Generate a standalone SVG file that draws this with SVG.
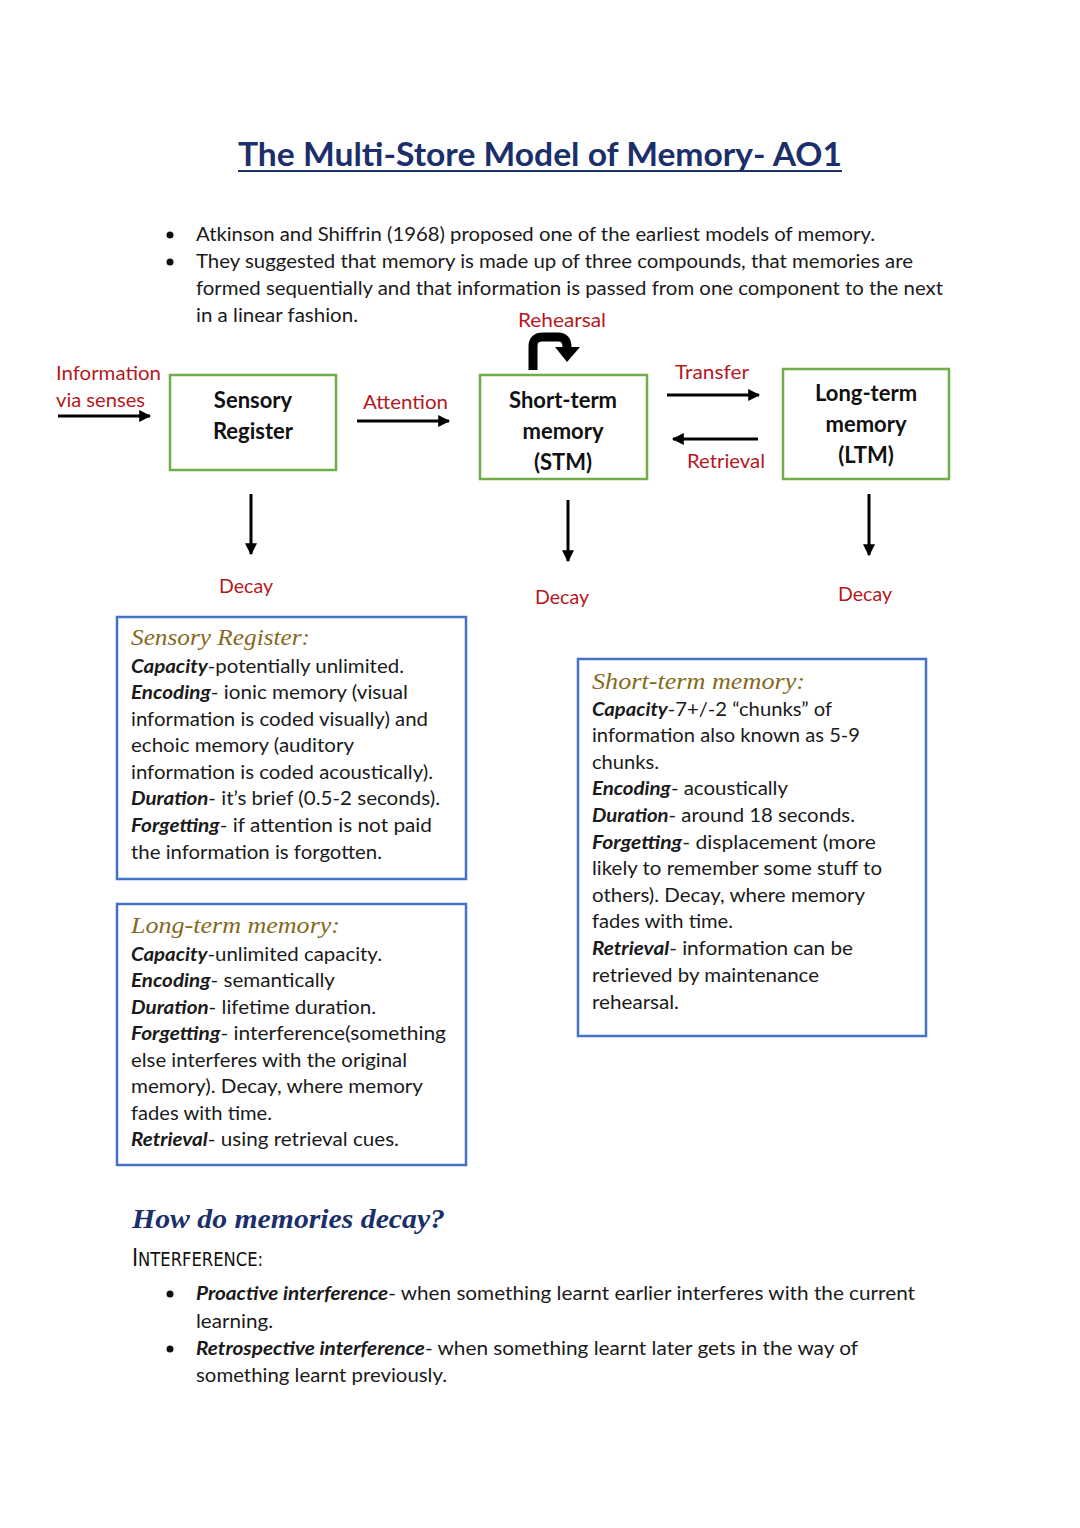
<svg xmlns="http://www.w3.org/2000/svg" width="1080" height="1528" viewBox="0 0 1080 1528">
<defs>
<style>
.t{font-family:Lato,"Open Sans","Liberation Sans",sans-serif;font-size:19.5px;fill:#1a1a1a}
.lbl{font-family:Lato,"Open Sans","Liberation Sans",sans-serif;font-size:19px;fill:#b5181e}
.node{font-family:Lato,"Open Sans","Liberation Sans",sans-serif;font-size:22px;font-weight:bold;fill:#111;text-anchor:middle}
.b{font-weight:bold;font-style:italic}
.hd{font-family:"Liberation Serif","DejaVu Serif",serif;font-style:italic;font-size:23px;fill:#86691c}
.gbox{fill:none;stroke:#70ad47;stroke-width:2.5}
.bbox{fill:none;stroke:#4472c4;stroke-width:2.5}
.con{stroke:#000;stroke-width:3;fill:none}
</style>
<marker id="ah" viewBox="0 0 10 10" refX="9" refY="5" markerWidth="4" markerHeight="4" orient="auto" markerUnits="strokeWidth">
<path d="M0,0 L10,5 L0,10 z" fill="#000"/>
</marker>
</defs>
<rect width="1080" height="1528" fill="#fff"/>

<g id="title">
<text x="238" y="166" textLength="604" lengthAdjust="spacingAndGlyphs" style="font-family:Lato,'Open Sans','Liberation Sans',sans-serif;font-size:32px;font-weight:bold;fill:#1b2f6b">The Multi-Store Model of Memory- AO1</text>
<line x1="238" y1="171" x2="842" y2="171" stroke="#1b2f6b" stroke-width="2.2"/>
</g>

<g id="intro">
<circle cx="170" cy="235" r="3.5" fill="#111"/>
<circle cx="170" cy="262" r="3.5" fill="#111"/>
<text class="t" x="196" y="241" textLength="679" lengthAdjust="spacingAndGlyphs">Atkinson and Shiffrin (1968) proposed one of the earliest models of memory.</text>
<text class="t" x="196" y="268" textLength="717" lengthAdjust="spacingAndGlyphs">They suggested that memory is made up of three compounds, that memories are</text>
<text class="t" x="196" y="295" textLength="747" lengthAdjust="spacingAndGlyphs">formed sequentially and that information is passed from one component to the next</text>
<text class="t" x="196" y="322" textLength="162" lengthAdjust="spacingAndGlyphs">in a linear fashion.</text>
</g>

<g id="sensory-register">
<rect class="gbox" x="170" y="375" width="166" height="95"/>
<text class="node" x="253" y="408">Sensory</text>
<text class="node" x="253" y="439">Register</text>
</g>

<g id="stm">
<rect class="gbox" x="480" y="375" width="167" height="104"/>
<text class="node" x="563" y="408">Short-term</text>
<text class="node" x="563" y="439">memory</text>
<text class="node" x="563" y="470">(STM)</text>
</g>

<g id="ltm">
<rect class="gbox" x="783" y="369" width="166" height="110"/>
<text class="node" x="866" y="401">Long-term</text>
<text class="node" x="866" y="432">memory</text>
<text class="node" x="866" y="463">(LTM)</text>
</g>

<g id="connectors">
<line class="con" x1="58" y1="416" x2="150" y2="416" marker-end="url(#ah)"/>
<line class="con" x1="357" y1="421" x2="449" y2="421" marker-end="url(#ah)"/>
<line class="con" x1="667" y1="395" x2="759" y2="395" marker-end="url(#ah)"/>
<line class="con" x1="758" y1="439" x2="673" y2="439" marker-end="url(#ah)"/>
<line class="con" x1="251" y1="494" x2="251" y2="554" stroke-width="2.6" marker-end="url(#ah)"/>
<line class="con" x1="568" y1="500" x2="568" y2="561" stroke-width="2.6" marker-end="url(#ah)"/>
<line class="con" x1="869" y1="494" x2="869" y2="555" stroke-width="2.6" marker-end="url(#ah)"/>
<path d="M533,370 L533,346 Q533,337 543,337 L558,337 Q567,337 567,347 L567,350" stroke="#000" stroke-width="9" fill="none"/>
<polygon points="555,347 580,347 567,362" fill="#000"/>
</g>

<g id="labels">
<text class="lbl" x="56" y="380" textLength="105" lengthAdjust="spacingAndGlyphs">Information</text>
<text class="lbl" x="56" y="407" textLength="89" lengthAdjust="spacingAndGlyphs">via senses</text>
<text class="lbl" x="363" y="409" textLength="85" lengthAdjust="spacingAndGlyphs">Attention</text>
<text class="lbl" x="518" y="327" textLength="88" lengthAdjust="spacingAndGlyphs">Rehearsal</text>
<text class="lbl" x="675" y="379" textLength="74" lengthAdjust="spacingAndGlyphs">Transfer</text>
<text class="lbl" x="687" y="468" textLength="78" lengthAdjust="spacingAndGlyphs">Retrieval</text>
<text class="lbl" x="219" y="593" textLength="54" lengthAdjust="spacingAndGlyphs">Decay</text>
<text class="lbl" x="535" y="604" textLength="54" lengthAdjust="spacingAndGlyphs">Decay</text>
<text class="lbl" x="838" y="601" textLength="54" lengthAdjust="spacingAndGlyphs">Decay</text>
</g>

<g id="sensory-details">
<rect class="bbox" x="117" y="617" width="349" height="262"/>
<text class="hd" x="131" y="645" textLength="179" lengthAdjust="spacingAndGlyphs">Sensory Register:</text>
<text class="t" x="131" y="673" textLength="273" lengthAdjust="spacingAndGlyphs"><tspan class="b">Capacity</tspan>-potentially unlimited.</text>
<text class="t" x="131" y="699" textLength="277" lengthAdjust="spacingAndGlyphs"><tspan class="b">Encoding</tspan>- ionic memory (visual</text>
<text class="t" x="131" y="726" textLength="297" lengthAdjust="spacingAndGlyphs">information is coded visually) and</text>
<text class="t" x="131" y="752" textLength="223" lengthAdjust="spacingAndGlyphs">echoic memory (auditory</text>
<text class="t" x="131" y="779" textLength="302" lengthAdjust="spacingAndGlyphs">information is coded acoustically).</text>
<text class="t" x="131" y="805" textLength="309" lengthAdjust="spacingAndGlyphs"><tspan class="b">Duration</tspan>- it’s brief (0.5-2 seconds).</text>
<text class="t" x="131" y="832" textLength="301" lengthAdjust="spacingAndGlyphs"><tspan class="b">Forgetting</tspan>- if attention is not paid</text>
<text class="t" x="131" y="859" textLength="251" lengthAdjust="spacingAndGlyphs">the information is forgotten.</text>
</g>

<g id="stm-details">
<rect class="bbox" x="578" y="659" width="348" height="377"/>
<text class="hd" x="592" y="689" textLength="213" lengthAdjust="spacingAndGlyphs">Short-term memory:</text>
<text class="t" x="592" y="716" textLength="240" lengthAdjust="spacingAndGlyphs"><tspan class="b">Capacity</tspan>-7+/-2 “chunks” of</text>
<text class="t" x="592" y="742" textLength="268" lengthAdjust="spacingAndGlyphs">information also known as 5-9</text>
<text class="t" x="592" y="769" textLength="67" lengthAdjust="spacingAndGlyphs">chunks.</text>
<text class="t" x="592" y="795" textLength="196" lengthAdjust="spacingAndGlyphs"><tspan class="b">Encoding</tspan>- acoustically</text>
<text class="t" x="592" y="822" textLength="263" lengthAdjust="spacingAndGlyphs"><tspan class="b">Duration</tspan>- around 18 seconds.</text>
<text class="t" x="592" y="849" textLength="284" lengthAdjust="spacingAndGlyphs"><tspan class="b">Forgetting</tspan>- displacement (more</text>
<text class="t" x="592" y="875" textLength="290" lengthAdjust="spacingAndGlyphs">likely to remember some stuff to</text>
<text class="t" x="592" y="902" textLength="273" lengthAdjust="spacingAndGlyphs">others). Decay, where memory</text>
<text class="t" x="592" y="928" textLength="141" lengthAdjust="spacingAndGlyphs">fades with time.</text>
<text class="t" x="592" y="955" textLength="261" lengthAdjust="spacingAndGlyphs"><tspan class="b">Retrieval</tspan>- information can be</text>
<text class="t" x="592" y="982" textLength="227" lengthAdjust="spacingAndGlyphs">retrieved by maintenance</text>
<text class="t" x="592" y="1009" textLength="87" lengthAdjust="spacingAndGlyphs">rehearsal.</text>
</g>

<g id="ltm-details">
<rect class="bbox" x="117" y="904" width="349" height="261"/>
<text class="hd" x="131" y="933" textLength="209" lengthAdjust="spacingAndGlyphs">Long-term memory:</text>
<text class="t" x="131" y="961" textLength="251" lengthAdjust="spacingAndGlyphs"><tspan class="b">Capacity</tspan>-unlimited capacity.</text>
<text class="t" x="131" y="987" textLength="204" lengthAdjust="spacingAndGlyphs"><tspan class="b">Encoding</tspan>- semantically</text>
<text class="t" x="131" y="1014" textLength="245" lengthAdjust="spacingAndGlyphs"><tspan class="b">Duration</tspan>- lifetime duration.</text>
<text class="t" x="131" y="1040" textLength="315" lengthAdjust="spacingAndGlyphs"><tspan class="b">Forgetting</tspan>- interference(something</text>
<text class="t" x="131" y="1067" textLength="276" lengthAdjust="spacingAndGlyphs">else interferes with the original</text>
<text class="t" x="131" y="1093" textLength="292" lengthAdjust="spacingAndGlyphs">memory). Decay, where memory</text>
<text class="t" x="131" y="1120" textLength="141" lengthAdjust="spacingAndGlyphs">fades with time.</text>
<text class="t" x="131" y="1146" textLength="268" lengthAdjust="spacingAndGlyphs"><tspan class="b">Retrieval</tspan>- using retrieval cues.</text>
</g>

<g id="decay-section">
<text x="132" y="1228" textLength="313" lengthAdjust="spacingAndGlyphs" style="font-family:'Liberation Serif','DejaVu Serif',serif;font-style:italic;font-weight:bold;font-size:28px;fill:#1b2f6b">How do memories decay?</text>
<text x="132" y="1266" textLength="131" lengthAdjust="spacingAndGlyphs" style="font-family:'DejaVu Sans Condensed','Liberation Sans',sans-serif;font-size:19px;fill:#111"><tspan font-size="24">I</tspan>NTERFERENCE:</text>
<circle cx="170" cy="1294" r="3.5" fill="#111"/>
<circle cx="170" cy="1349" r="3.5" fill="#111"/>
<text class="t" x="196" y="1300" textLength="719" lengthAdjust="spacingAndGlyphs"><tspan class="b">Proactive interference</tspan>- when something learnt earlier interferes with the current</text>
<text class="t" x="196" y="1328" textLength="77" lengthAdjust="spacingAndGlyphs">learning.</text>
<text class="t" x="196" y="1355" textLength="662" lengthAdjust="spacingAndGlyphs"><tspan class="b">Retrospective interference</tspan>- when something learnt later gets in the way of</text>
<text class="t" x="196" y="1382" textLength="251" lengthAdjust="spacingAndGlyphs">something learnt previously.</text>
</g>
</svg>
